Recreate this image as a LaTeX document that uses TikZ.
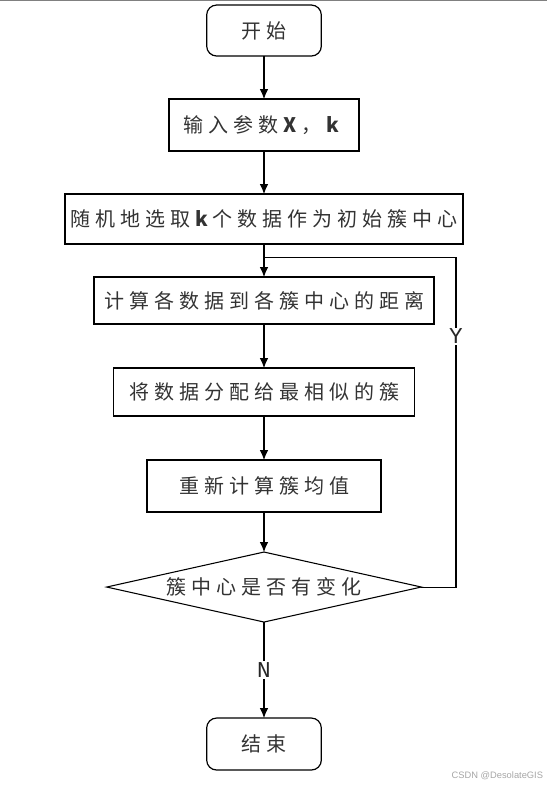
\documentclass[tikz,border=0pt]{standalone}
\usepackage{fontspec}
\newfontfamily\cjk[LetterSpace=25]{Noto Sans CJK SC}
\newfontfamily\labelfont{Liberation Mono}
\newfontfamily\markfont{Liberation Sans}
\usetikzlibrary{shapes.geometric, arrows.meta, positioning, calc}

\begin{document}
\begin{tikzpicture}[
        node distance=32.25pt, % gap between the boxes
        % styles
        startstop/.style={rectangle, rounded corners=7.5pt, minimum width=86pt, minimum height=38.25pt, outer sep=0pt, draw=black, line width=0.9pt, text=black!80, font=\cjk\fontsize{15pt}{18pt}\selectfont, align=center},
        process/.style={rectangle, minimum height=37.5pt, outer sep=0pt, draw=black, line width=0.9pt, text=black!80, font=\cjk\fontsize{15pt}{18pt}\selectfont, align=center},
        decision/.style={diamond, aspect=4.5, minimum width=236pt, minimum height=52.5pt, inner sep=0pt, outer sep=0pt, draw=black, line width=0.8pt, text=black!80, font=\cjk\fontsize{15pt}{18pt}\selectfont},
        yesno/.style={fill=white, inner sep=1pt, text=black!85, font=\labelfont\fontsize{17pt}{19pt}\selectfont},
        arrow/.style={line width=0.8pt, -{Latex[length=7.5pt, width=6.5pt]}},
        line/.style={line width=0.8pt} ]

    \useasboundingbox (0,0) rectangle (410.25pt,-590.25pt);
    \draw [gray, line width=0.75pt] (0,-0.375pt) -- (410.25pt,-0.375pt);

    % --- main column ---
    \node (start)  [startstop] at (198pt,-22.9pt) {开始};
    \node (input)  [process, minimum width=142.5pt, minimum height=39pt, below=of start] {输入参数\textbf{X}，\textbf{k}};
    \node (init)   [process, minimum width=298.5pt, below=of input] {随机地选取\textbf{k}个数据作为初始簇中心};
    \node (dist)   [process, minimum width=255pt, minimum height=35.25pt, below=24.75pt of init] {计算各数据到各簇中心的距离};
    \node (assign) [process, minimum width=225.75pt, minimum height=36pt, below=33pt of dist] {将数据分配给最相似的簇};
    \node (update) [process, minimum width=175.5pt, minimum height=39pt, below=33pt of assign] {重新计算簇均值};
    \node (dec)    [decision, below=30pt of update] {簇中心是否有变化};
    \node (stop)   [startstop, minimum height=39pt, below=72pt of dec] {结束};

    % watermark
    \node (mark) [anchor=east, inner sep=0pt, text=black!35, font=\markfont\fontsize{7pt}{8pt}\selectfont] at (407.5pt,-582pt) {CSDN @DesolateGIS};

    % --- CONNECTIONS ---
    \draw [arrow] (start) -- (input);
    \draw [arrow] (input) -- (init);
    \draw [arrow] (init) -- (dist);
    \draw [arrow] (dist) -- (assign);
    \draw [arrow] (assign) -- (update);
    \draw [arrow] (update) -- (dec);
    \draw [arrow] (dec) -- node[yesno] {N} (stop);

    % feedback loop (Y)
    \coordinate (join) at ($(init.south)!0.4!(dist.north)$);
    \draw [line] (dec.east) -- ++(26pt,0) |- node[yesno, pos=0.38] {Y} (join);

\end{tikzpicture}
\end{document}
